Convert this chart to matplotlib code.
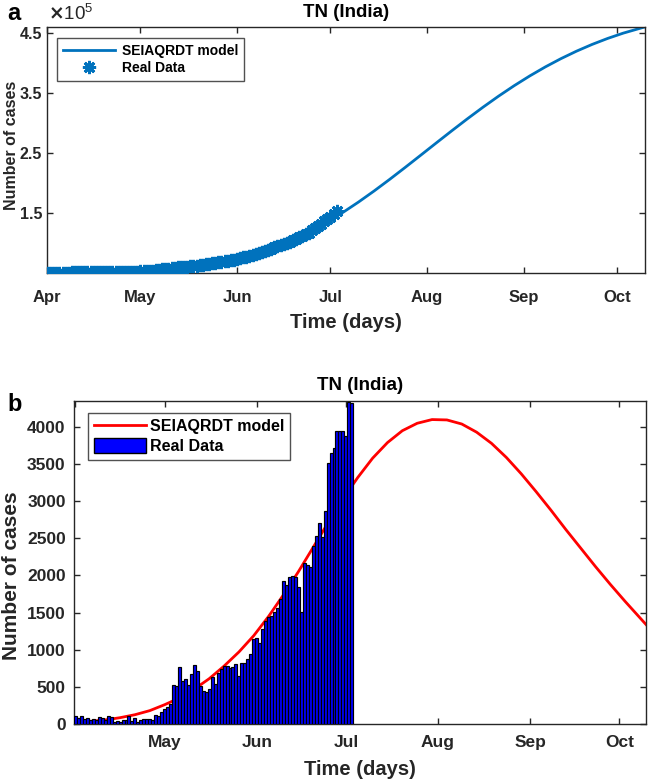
import matplotlib
matplotlib.use("Agg")
import matplotlib.pyplot as plt
from matplotlib.lines import Line2D
from matplotlib.patches import Patch

plt.rcParams['font.family'] = ['Liberation Sans', 'DejaVu Sans']
plt.rcParams['font.weight'] = 'bold'

# ---- data (days since 1 April 2020) ----
month_ticks = [0, 30, 61, 91, 122, 153, 183]
month_labels = ['Apr', 'May', 'Jun', 'Jul', 'Aug', 'Sep', 'Oct']

# daily reported cases, 1 Apr .. 3 Jul
daily_cases = [110, 75, 102, 74, 86, 50, 69, 48, 96, 77, 58, 106, 98, 31, 38, 25, 56, 49, 105, 43,
               76, 33, 54, 72, 66, 64, 52, 121, 104, 161,
               203, 231, 266, 527, 508, 771, 580, 600, 526, 669, 798, 716, 509, 447, 434, 477, 639,
               536, 688, 743, 776, 786, 759, 765, 805, 646, 817, 827, 874, 938, 1149,
               1162, 1091, 1286, 1384, 1438, 1458, 1515, 1562, 1685, 1927, 1875, 1982, 1989, 1974,
               1843, 1515, 2174, 2141, 2115, 2396, 2532, 2710, 2516, 2865, 3509, 3645, 3713, 3940,
               3949, 3943,
               3882, 4343, 4329]
daily_days = list(range(len(daily_cases)))

# cumulative reported cases, 1 Apr .. 3 Jul
cum_cases = [234, 309, 411, 485, 571, 621, 690, 738, 834, 911, 969, 1075, 1173, 1204, 1242, 1267,
             1323, 1372, 1477, 1520, 1596, 1629, 1683, 1755, 1821, 1885, 1937, 2058, 2162, 2323,
             2526, 2757, 3023, 3550, 4058, 4829, 5409, 6009, 6535, 7204, 8002, 8718, 9227, 9674,
             10108, 10585, 11224, 11760, 12448, 13191, 13967, 14753, 15512, 16277, 17082, 17728,
             18545, 19372, 20246, 21184, 22333,
             23495, 24586, 25872, 27256, 28694, 30152, 31667, 33229, 34914, 36841, 38716, 40698,
             42687, 44661, 46504, 48019, 50193, 52334, 54449, 56845, 59377, 62087, 64603, 67468,
             70977, 74622, 78335, 82275, 86224, 90167,
             94049, 98392, 102721]
cum_days = list(range(len(cum_cases)))

# SEIAQRDT model, cumulative
model_cum_days = [0, 5, 10, 15, 20, 25, 30, 35, 40, 45, 50, 55, 60, 65, 70, 75, 80, 85, 90, 95,
                  100, 105, 110, 115, 120, 125, 130, 135, 140, 145, 150, 155, 160, 165, 170, 175,
                  180, 185, 192]
model_cum = [250, 390, 615, 965, 1490, 2250, 3350, 4875, 6925, 9625, 13100, 17475, 22875, 29475,
             37450, 46925, 58000, 70725, 85075, 100950, 118200, 136625, 155975, 175975, 196350,
             216840, 237175, 257100, 276375, 294800, 312200, 328450, 343475, 357225, 369700,
             380925, 390925, 399750, 410215]

# SEIAQRDT model, daily
model_daily_days = [0, 5, 10, 15, 20, 25, 30, 35, 40, 45, 50, 55, 60, 65, 70, 75, 80, 85, 90, 95,
                    100, 105, 110, 115, 120, 125, 130, 135, 140, 145, 150, 155, 160, 165, 170, 175,
                    180, 185, 192]
model_daily = [20, 35, 55, 85, 125, 180, 260, 350, 470, 610, 780, 970, 1190, 1450, 1740, 2050, 2380,
               2710, 3030, 3320, 3580, 3790, 3950, 4050, 4100, 4095, 4040, 3930, 3780, 3590, 3370,
               3130, 2880, 2620, 2370, 2120, 1880, 1650, 1340]

top_yticks = [1e5, 2e5, 3e5, 4e5]
top_yticklabels = ['1.5', '2.5', '3.5', '4.5']
bot_yticks = [0, 500, 1000, 1500, 2000, 2500, 3000, 3500, 4000]

BLUE = '#0072BD'
TXT = '#262626'

fig = plt.figure(figsize=(6.49, 7.80), dpi=100)

def style(ax, xsize, ysize, xpad, ypad):
    ax.tick_params(direction='in', top=True, right=True, length=4.5, width=1, colors=TXT)
    ax.tick_params(axis='x', labelsize=xsize, pad=xpad)
    ax.tick_params(axis='y', labelsize=ysize, pad=ypad)
    for lab in ax.get_xticklabels() + ax.get_yticklabels():
        lab.set_fontweight('bold')
    for s in ax.spines.values():
        s.set_color(TXT)
        s.set_linewidth(1.0)

# ---- panel a ----
ax1 = fig.add_axes([47/649, 1-273/780, 598/649, 246/780])
ax1.plot(model_cum_days, model_cum, color=BLUE, lw=2, label='SEIAQRDT model', zorder=2)
ax1.plot(cum_days, cum_cases, linestyle='none', marker=(8, 2, 0), markersize=9.5, mew=2.0,
         color=BLUE, label='Real Data', zorder=3)
ax1.set_xlim(0, 192)
ax1.set_ylim(0, 4.1e5)
ax1.set_xticks(month_ticks)
ax1.set_xticklabels(month_labels)
ax1.set_yticks(top_yticks)
ax1.set_yticklabels(top_yticklabels)
style(ax1, 12, 11.5, 12, 3.5)
ax1.set_xlabel('Time (days)', fontsize=14.5, fontweight='bold', color=TXT, labelpad=6)
ax1.set_ylabel('Number of cases', fontsize=11.5, fontweight='bold', color=TXT)
ax1.yaxis.set_label_coords(-0.046, 0.52)
ax1.set_title('TN (India)', fontsize=13.5, fontweight='bold', color='black', pad=7)
ax1.text(0.002, 1.012, r'$\times\mathregular{10^5}$', transform=ax1.transAxes, fontsize=13.5,
         color=TXT, ha='left', va='bottom', fontweight='normal')
leg1 = ax1.legend(loc='upper left', bbox_to_anchor=(0.017, 0.955), borderaxespad=0,
                  frameon=True, fancybox=False, edgecolor=TXT,
                  prop={'weight': 'bold', 'size': 10}, handlelength=3.8, handletextpad=0.45,
                  borderpad=0.4, labelspacing=0.25)
leg1.get_frame().set_linewidth(1.0)
fig.text(7/649, 1-14/780, 'a', fontsize=17, fontweight='bold', va='center', ha='left')

# ---- panel b ----
ax2 = fig.add_axes([74/649, 1-724/780, 572/649, 323/780])
ax2.plot(model_daily_days, model_daily, color='red', lw=2, label='SEIAQRDT model', zorder=2)
ax2.bar(daily_days, daily_cases, width=1.0, color='#0000FF', edgecolor='black', linewidth=0.85,
        label='Real Data', zorder=3)
ax2.set_xlim(-0.5, 192)
ax2.set_ylim(0, 4350)
ax2.set_xticks(month_ticks)
ax2.set_xticklabels([''] + month_labels[1:])
ax2.set_yticks(bot_yticks)
style(ax2, 12.5, 12.5, 8, 6)
ax2.set_xlabel('Time (days)', fontsize=14.5, fontweight='bold', color=TXT, labelpad=7)
ax2.set_ylabel('Number of cases', fontsize=15, fontweight='bold', color=TXT)
ax2.yaxis.set_label_coords(-0.093, 0.46)
ax2.set_title('TN (India)', fontsize=13.5, fontweight='bold', color='black', pad=8)
h_line = Line2D([0], [0], color='red', lw=2)
h_bar = Patch(facecolor='#0000FF', edgecolor='black', linewidth=1.0)
leg2 = ax2.legend([h_line, h_bar], ['SEIAQRDT model', 'Real Data'], loc='upper left',
                  bbox_to_anchor=(0.0245, 0.963), borderaxespad=0, frameon=True, fancybox=False,
                  edgecolor=TXT, prop={'weight': 'bold', 'size': 11.5}, handlelength=3.3,
                  handleheight=1.05, borderpad=0.35, labelspacing=0.25, handletextpad=0.25)
leg2.get_frame().set_linewidth(1.0)
fig.text(7/649, 1-404/780, 'b', fontsize=17, fontweight='bold', va='center', ha='left')

fig.savefig('out.png', dpi=100)
